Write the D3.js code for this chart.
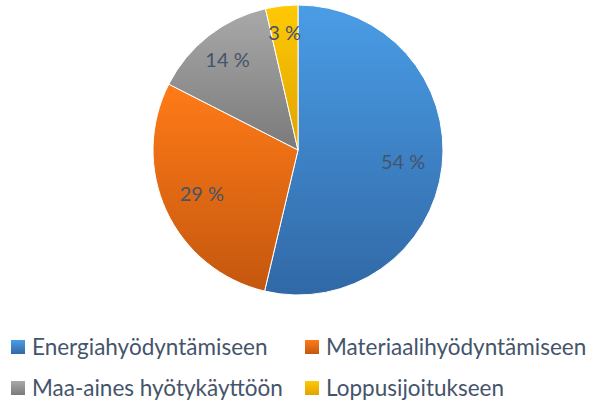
<!DOCTYPE html>
<html><head><meta charset="utf-8">
<script src="https://cdn.jsdelivr.net/npm/d3@7"></script>
<style>html,body{margin:0;padding:0;background:#fff;}svg{display:block;}</style>
</head><body>
<svg id="c" width="589" height="403"></svg>
<script>
const categories = ["Energiahyödyntämiseen","Materiaalihyödyntämiseen","Maa-aines hyötykäyttöön","Loppusijoitukseen"];
const values = [53.7, 28.8, 13.9, 3.6];
const labels = ["54 %","29 %","14 %","3 %"];
const colorTop = ["#4a9de6","#ff7b17","#a9a9a9","#ffc905"];
const colorBot = ["#3168a6","#c4570f","#7a7a7a","#e0a300"];

const svg = d3.select("#c");
const font = "Lato, 'Open Sans', sans-serif";
const textColor = "#44546a";
const cx = 298, cy = 150, r = 145;

const defs = svg.append("defs");
categories.forEach((c,i)=>{
  const g = defs.append("linearGradient").attr("id","g"+i).attr("x1",0).attr("y1",0).attr("x2",0).attr("y2",1);
  g.append("stop").attr("offset","0%").attr("stop-color",colorTop[i]);
  g.append("stop").attr("offset","100%").attr("stop-color",colorBot[i]);
});

const pie = d3.pie().sort(null).value(d=>d);
const arcs = pie(values);
const arc = d3.arc().innerRadius(0).outerRadius(r);

const g = svg.append("g").attr("transform",`translate(${cx},${cy})`);
g.selectAll("path").data(arcs).join("path")
  .attr("d",arc).attr("fill",(d,i)=>`url(#g${i})`)
  .attr("stroke","#fff").attr("stroke-width",1);

const labelR = [0.73, 0.73, 0.79, 0.81];
g.selectAll("text").data(arcs).join("text")
  .attr("transform",(d,i)=>{
    const a = d3.arc().innerRadius(r*labelR[i]).outerRadius(r*labelR[i]);
    return `translate(${a.centroid(d)})`;
  })
  .attr("text-anchor","middle").attr("dy","0.35em")
  .attr("font-family",font).attr("font-size",20).attr("fill",textColor)
  .text((d,i)=>labels[i]);

// legend
const lx = d3.scaleOrdinal().domain([0,1]).range([11,305]);
const ly = d3.scaleOrdinal().domain([0,1]).range([347,388]);
const lg = svg.append("g");
categories.forEach((c,i)=>{
  const col = i%2, row = Math.floor(i/2);
  const item = lg.append("g").attr("transform",`translate(${lx(col)},${ly(row)})`);
  item.append("rect").attr("x",0).attr("y",-7).attr("width",14).attr("height",14).attr("fill",`url(#g${i})`);
  item.append("text").attr("x",21).attr("y",0).attr("dy","0.35em")
    .attr("font-family",font).attr("font-size",22.5).attr("fill",textColor).text(c);
});
</script>
</body></html>
